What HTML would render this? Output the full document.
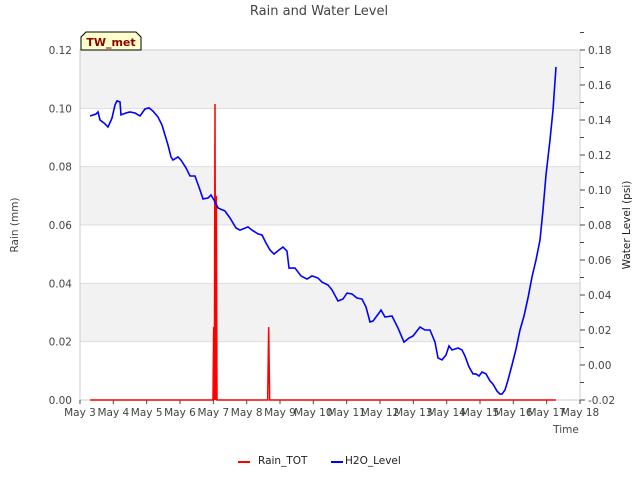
<!DOCTYPE html>
<html><head><meta charset="utf-8"><style>
body{margin:0;background:#fff;font-family:"Liberation Sans","DejaVu Sans",sans-serif}
</style></head><body>
<svg id="c" width="640" height="480" xmlns="http://www.w3.org/2000/svg" font-family="DejaVu Sans, Liberation Sans, sans-serif">
<text x="319" y="15" text-anchor="middle" font-size="13" fill="#444">Rain and Water Level</text>
<g id="bands"></g><g id="grid"></g>
<rect x="80" y="50" width="500" height="350" fill="none" stroke="#ccc"/>
<g id="axes" font-size="10.5" fill="#444"></g>
<g id="marks"></g>
<text transform="translate(18,225) rotate(-90)" text-anchor="middle" font-size="10.5" fill="#444">Rain (mm)</text>
<text transform="translate(630,225) rotate(-90)" text-anchor="middle" font-size="10.5" fill="#222">Water Level (psi)</text>
<text x="566" y="433" text-anchor="middle" font-size="10.5" fill="#444">Time</text>
<g>
<path d="M81,50 L81,37 L86,32 L136,32 L141,37 L141,50 Z" fill="#ffffcc" stroke="#000"/>
<text x="111" y="46" text-anchor="middle" font-size="11" font-weight="bold" fill="#8b0000">TW_met</text></g>
<g font-size="10.5" fill="#222">
<line x1="238" y1="462" x2="250" y2="462" stroke="#f00" stroke-width="2"/>
<text x="258" y="464">Rain_TOT</text>
<line x1="331" y1="462" x2="343" y2="462" stroke="#00f" stroke-width="2"/>
<text x="345" y="464">H2O_Level</text></g>
</svg>
<script>
const xTicks=["May 3","May 4","May 5","May 6","May 7","May 8","May 9","May 10","May 11","May 12","May 13","May 14","May 15","May 16","May 17","May 18"];
const leftTicks=[0,0.02,0.04,0.06,0.08,0.10,0.12];
const rightTicks=[-0.02,0,0.02,0.04,0.06,0.08,0.10,0.12,0.14,0.16,0.18];
const h2oDays=[0.30,0.48,0.54,0.60,0.72,0.84,0.96,1.05,1.11,1.20,1.23,1.38,1.50,1.65,1.80,1.95,2.07,2.19,2.34,2.46,2.55,2.64,2.73,2.79,2.94,3.03,3.18,3.30,3.45,3.60,3.69,3.84,3.93,4.02,4.14,4.35,4.50,4.68,4.80,5.04,5.16,5.34,5.46,5.58,5.70,5.82,5.97,6.09,6.21,6.27,6.45,6.63,6.81,6.96,7.14,7.26,7.44,7.56,7.74,7.89,8.01,8.16,8.31,8.46,8.58,8.70,8.79,8.97,9.03,9.15,9.36,9.54,9.72,9.87,9.99,10.20,10.35,10.50,10.65,10.74,10.86,10.98,11.07,11.16,11.34,11.46,11.55,11.67,11.79,11.88,11.97,12.06,12.18,12.30,12.39,12.51,12.60,12.66,12.75,12.84,12.96,13.08,13.20,13.32,13.44,13.56,13.68,13.80,13.89,13.98,14.10,14.19,14.28];
const h2oLevel=[0.1423,0.1434,0.1446,0.1400,0.1383,0.1360,0.1411,0.1486,0.1509,0.1503,0.1429,0.1440,0.1446,0.1440,0.1423,0.1463,0.1469,0.1451,0.1417,0.1371,0.1314,0.1257,0.1189,0.1171,0.1189,0.1171,0.1126,0.1080,0.1080,0.1000,0.0949,0.0954,0.0971,0.0943,0.0897,0.0880,0.0840,0.0783,0.0771,0.0789,0.0771,0.0749,0.0743,0.0697,0.0657,0.0634,0.0657,0.0674,0.0651,0.0554,0.0554,0.0509,0.0491,0.0509,0.0497,0.0474,0.0457,0.0429,0.0366,0.0377,0.0411,0.0406,0.0383,0.0377,0.0331,0.0246,0.0251,0.0297,0.0314,0.0274,0.0280,0.0211,0.0131,0.0154,0.0166,0.0217,0.0200,0.0200,0.0131,0.0040,0.0029,0.0057,0.0109,0.0086,0.0097,0.0086,0.0051,-0.0011,-0.0051,-0.0051,-0.0063,-0.0040,-0.0051,-0.0091,-0.0109,-0.0149,-0.0166,-0.0166,-0.0143,-0.0086,0.0000,0.0091,0.0200,0.0280,0.0383,0.0503,0.0600,0.0714,0.0886,0.1086,0.1286,0.1457,0.1703];
const rainDays=[0.30,3.99,4.01,4.03,4.05,4.07,4.09,4.11,5.63,5.66,5.69,14.28];
const rainTot=[0,0,0.025,0,0.1015,0,0.07,0,0,0.025,0,0];
const NS="http://www.w3.org/2000/svg";
const X=d=>80+d*500/15, YL=v=>400-v*350/0.12, YR=v=>400-(v+0.02)*350/0.2;
function mk(t,a,p){const e=document.createElementNS(NS,t);for(const k in a)e.setAttribute(k,a[k]);document.getElementById(p).appendChild(e);return e;}
for(let i=0;i<leftTicks.length-1;i++){if(i%2==1){const b=mk('rect',{x:80,y:YL(leftTicks[i+1]),width:500,height:YL(leftTicks[i])-YL(leftTicks[i+1]),fill:'#f2f2f2'},'bands');

}}
leftTicks.forEach(v=>{const g=mk('line',{x1:80,x2:580,y1:YL(v),y2:YL(v),stroke:'#ddd'},'grid');


const t=mk('text',{x:72,y:YL(v)+4,'text-anchor':'end'},'axes');t.textContent=v.toFixed(2);

});
rightTicks.forEach(v=>{mk('line',{x1:580,x2:585,y1:YR(v),y2:YR(v),stroke:'#444'},'axes');
mk('line',{x1:580,x2:584,y1:YR(v+0.01),y2:YR(v+0.01),stroke:'#444'},'axes');
const t=mk('text',{x:588,y:YR(v)+4},'axes');t.textContent=v.toFixed(2);

});
xTicks.forEach((s,i)=>{mk('line',{x1:X(i),x2:X(i),y1:400,y2:404,stroke:'#444'},'axes');
const t=mk('text',{x:X(i),y:416,'text-anchor':'middle'},'axes');t.textContent=s;

});
const r=mk('polyline',{points:rainDays.map((d,i)=>X(d)+','+YL(rainTot[i])).join(' '),fill:'none',stroke:'#f00','stroke-width':1.5},'marks');


const h=mk('polyline',{points:h2oDays.map((d,i)=>X(d)+','+YR(h2oLevel[i])).join(' '),fill:'none',stroke:'#00f','stroke-width':1.6},'marks');


</script>
</body></html>
